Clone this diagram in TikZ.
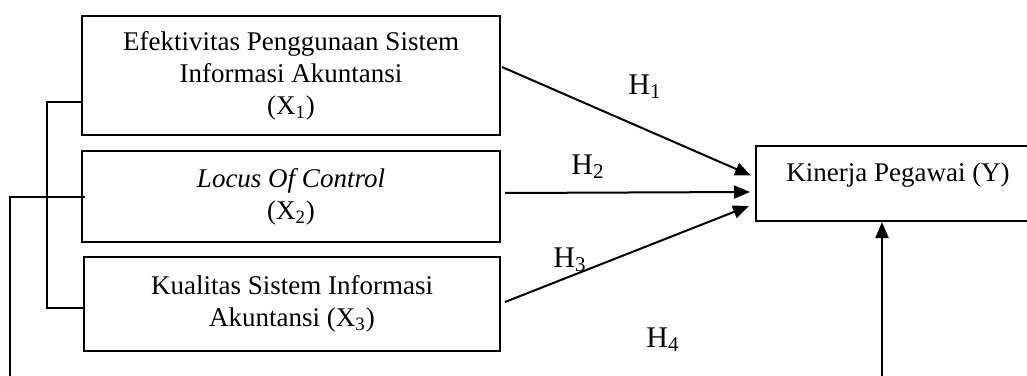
\documentclass[tikz,border=0pt]{standalone}
\usepackage{fontspec}
\setmainfont{Liberation Serif}
\usepackage{tikz}
\usetikzlibrary{arrows.meta,calc,positioning}

\begin{document}
\begin{tikzpicture}[x=0.5pt,y=-0.5pt,
    box/.style={draw=black,line width=1pt,inner sep=0pt,align=center,
      font=\fontsize{13.5}{16}\selectfont},
    hyp/.style={line width=1pt,-{Triangle[length=8pt,width=6.5pt]}},
    hlabel/.style={inner sep=0pt,font=\fontsize{15}{18}\selectfont}]
        % frame of the picture
        \useasboundingbox (0,0) rectangle (1027,375);
        \clip (0,0) rectangle (1027,375);
        % variables
        \node[box,minimum width=209pt,minimum height=59.5pt] (x1) at (291,75.5)
          {Efektivitas Penggunaan Sistem\\Informasi Akuntansi\\(X\textsubscript{1})};
        \node[box,minimum width=209pt,minimum height=45.5pt] (x2) at (291,196.5)
          {\textit{Locus Of Control}\\(X\textsubscript{2})};
        \node[box,minimum width=208pt,minimum height=47pt] (x3) at (292,304)
          {Kualitas Sistem Informasi\\Akuntansi (X\textsubscript{3})};
        \node[box,minimum width=142pt,minimum height=37.5pt,text height=9pt,text depth=11.5pt] (kp) at (898,183.5)
          {Kinerja Pegawai (Y)};
        % hypotheses
        \draw[hyp] ($(x1.east)+(1,-8.5)$) -- ($(kp.west)+(-4,-8)$);
        \draw[hyp] ($(x2.east)+(4,-3.5)$) -- ($(kp.west)+(-5,8.5)$);
        \draw[hyp] ($(x3.east)+(4,-2)$) -- ($(kp.west)+(-6,22.5)$);
        \node[hlabel] (h1) at (645,87) {H\textsubscript{1}};
        \node[hlabel] (h2) at (588,167) {H\textsubscript{2}};
        \node[hlabel] (h3) at (570,260) {H\textsubscript{3}};
        \node[hlabel] (h4) at (663,340) {H\textsubscript{4}};
        % simultaneous path
        \draw[line width=1pt] ($(x1.west)+(0,26.5)$) -- ++(-34,0) |- ($(x3.west)+(0,4)$);
        \coordinate (lbot) at (10,380);
        \draw[line width=1pt] ($(x2.west)+(4,0.5)$) -| (lbot);
        \coordinate (h4bot) at (882,380);
        \draw[hyp] (h4bot) -- (h4bot |- kp.south);
      \end{tikzpicture}
\end{document}
